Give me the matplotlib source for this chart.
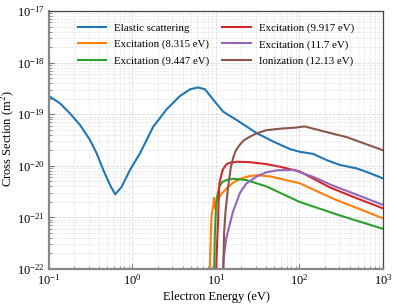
import matplotlib
matplotlib.use("Agg")
import matplotlib.pyplot as plt

plt.rcParams['font.family'] = ['Liberation Serif', 'DejaVu Serif']
plt.rcParams['mathtext.fontset'] = 'stix'

elastic_E = [0.1, 0.135, 0.178, 0.235, 0.31, 0.372, 0.447, 0.538, 0.62, 0.74, 0.933, 1.23, 1.77, 2.57, 3.7, 4.9, 6.1, 7.4, 9.3, 12.2, 17.7, 30.7, 48.5, 77.5, 101, 146, 211, 305, 484, 698, 1000]
elastic_s = [2.25e-19, 1.63e-19, 1.04e-19, 6.2e-20, 3.16e-20, 1.75e-20, 8.3e-21, 4.25e-21, 2.8e-21, 3.9e-21, 8.3e-21, 1.75e-20, 5.7e-20, 1.25e-19, 2.25e-19, 3.04e-19, 3.3e-19, 3.04e-19, 1.9e-19, 1.12e-19, 7.7e-20, 4.3e-20, 2.95e-20, 2.1e-20, 1.87e-20, 1.7e-20, 1.29e-20, 1.04e-20, 8.9e-21, 7.2e-21, 5.7e-21]

exc1_E = [8.315, 8.6, 8.85, 9.2, 9.5, 9.7, 10.0, 10.6, 11.5, 13.3, 16, 19.4, 25, 32, 45, 100, 254, 1000]
exc1_s = [5e-23, 3e-22, 1.1e-21, 1.6e-21, 2.4e-21, 1.5e-21, 1.9e-21, 2.3e-21, 2.8e-21, 3.6e-21, 4.7e-21, 5.6e-21, 6.3e-21, 6.6e-21, 6.2e-21, 4.6e-21, 2.3e-21, 9.6e-22]

exc2_E = [9.447, 9.7, 10.0, 10.2, 11, 12, 13.3, 16, 23, 40, 100, 300, 1000]
exc2_s = [5e-23, 5e-22, 1.5e-21, 2.3e-21, 4e-21, 4.9e-21, 5.3e-21, 5.6e-21, 5.3e-21, 4e-21, 2e-21, 1.1e-21, 6e-22]

exc3_E = [9.917, 10.3, 10.6, 10.8, 11.0, 12.0, 13.2, 14.6, 18, 25, 40, 60, 100, 232, 500, 1000]
exc3_s = [5e-23, 3e-22, 9e-22, 2.5e-21, 4.6e-21, 8.3e-21, 1.05e-20, 1.15e-20, 1.2e-20, 1.18e-20, 1.08e-20, 9.5e-21, 7.8e-21, 3.8e-21, 2.3e-21, 1.5e-21]

exc4_E = [11.7, 12.3, 13.3, 16, 19.4, 23, 30.7, 40, 55, 85, 150, 254, 500, 1000]
exc4_s = [1e-23, 1.5e-22, 4e-22, 1.3e-21, 3e-21, 4.5e-21, 6.2e-21, 7.5e-21, 8.2e-21, 8.3e-21, 6e-21, 4.1e-21, 2.7e-21, 1.75e-21]

ion_E = [12.13, 12.5, 13, 14, 15, 16, 17, 18, 20, 22, 25, 30, 40, 50, 64, 90, 115, 200, 367, 600, 1000]
ion_s = [5e-23, 5e-22, 1.3e-21, 4e-21, 9e-21, 1.4e-20, 1.85e-20, 2.2e-20, 2.75e-20, 3.2e-20, 3.6e-20, 4.2e-20, 4.9e-20, 5.1e-20, 5.3e-20, 5.5e-20, 5.8e-20, 4.6e-20, 3.6e-20, 2.7e-20, 2.0e-20]

labels = ["Elastic scattering", "Excitation (8.315 eV)", "Excitation (9.447 eV)",
          "Excitation (9.917 eV)", "Excitation (11.7 eV)", "Ionization (12.13 eV)"]
colors = ["#1f77b4", "#ff7f0e", "#2ca02c", "#d62728", "#9467bd", "#8c564b"]

fig = plt.figure(figsize=(3.97, 3.06), dpi=100)
ax = fig.add_axes([0.1234, 0.1209, 0.8413, 0.8431])

series = [(elastic_E, elastic_s), (exc1_E, exc1_s), (exc2_E, exc2_s),
          (exc3_E, exc3_s), (exc4_E, exc4_s), (ion_E, ion_s)]
for (E, s), lab, c in zip(series, labels, colors):
    ax.plot(E, s, color=c, lw=1.5, label=lab)

ax.set_xscale('log')
ax.set_yscale('log')
ax.set_xlim(0.1, 1000)
ax.set_ylim(1e-22, 1e-17)
ax.grid(True, which='major', color='#d8d8d8', ls='--', lw=0.6)
ax.grid(True, which='minor', color='#e4e4e4', ls='--', lw=0.5)
ax.tick_params(which='both', direction='in', labelsize=9, colors='#777777', labelcolor='black')
ax.tick_params(which='major', length=3.5, pad=3)
ax.tick_params(which='minor', length=2)
for sp in ['left', 'bottom']:
    ax.spines[sp].set_color('#888888')
    ax.spines[sp].set_linewidth(1.6)
for sp in ['top', 'right']:
    ax.spines[sp].set_color('#444444')
    ax.spines[sp].set_linewidth(0.9)

ax.set_xlabel("Electron Energy (eV)", fontsize=9, labelpad=2)
ax.set_ylabel("Cross Section (m$^2$)", fontsize=9)
ax.yaxis.set_label_coords(-0.098, 0.505)
ax.legend(loc='upper center', ncol=2, frameon=False, fontsize=7.8,
          handlelength=2.6, columnspacing=1.2, labelspacing=0.6,
          bbox_to_anchor=(0.5, 0.99))

fig.savefig("out.png", dpi=100)
